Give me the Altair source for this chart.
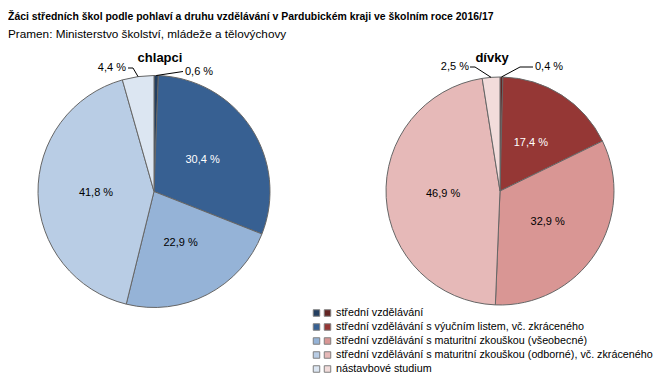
import math
import altair as alt
import pandas as pd

# ---------------- data ----------------
kategorie = [
    "střední vzdělávání",
    "střední vzdělávání s výučním listem, vč. zkráceného",
    "střední vzdělávání s maturitní zkouškou (všeobecné)",
    "střední vzdělávání s maturitní zkouškou (odborné), vč. zkráceného",
    "nástavbové studium",
]
chlapci = [0.6, 30.4, 22.9, 41.8, 4.4]
divky = [0.4, 17.4, 32.9, 46.9, 2.5]
barvy_chlapci = ["#243F60", "#376092", "#95B3D7", "#B9CDE5", "#DCE6F2"]
barvy_divky = ["#632523", "#953735", "#D99694", "#E6B9B8", "#F2DCDB"]
barvy_textu = ["black", "white", "black", "black", "black"]

titulek = "Žáci středních škol podle pohlaví a druhu vzdělávání v Pardubickém  kraji ve školním roce 2016/17"
podtitulek = "Pramen: Ministerstvo školství, mládeže a tělovýchovy"

FONT = "Liberation Sans"
W, H = 653, 368


def fmt(v):
    return f"{v:.1f}".replace(".", ",") + " %"


def pie_layers(values, colors, cx, cy, r, name, name_x, name_y, small_labels):
    df = pd.DataFrame({
        "kategorie": kategorie,
        "hodnota": values,
        "poradi": list(range(len(values))),
        "barva": colors,
        "barva_textu": barvy_textu,
        "vnitrni": [fmt(v) if v >= 10 else "" for v in values],
    })
    base = alt.Chart(df)
    arcs = base.mark_arc(outerRadius=r, stroke="#666666", strokeWidth=1).encode(
        x=alt.value(cx), y=alt.value(cy),
        theta=alt.Theta("hodnota:Q", stack=True),
        order=alt.Order("poradi:Q"),
        color=alt.Color("barva:N", scale=None),
    )
    inner = base.mark_text(radius=r * 0.5, font=FONT, fontSize=11).encode(
        x=alt.value(cx), y=alt.value(cy),
        theta=alt.Theta("hodnota:Q", stack=True),
        order=alt.Order("poradi:Q"),
        text="vnitrni:N",
        color=alt.Color("barva_textu:N", scale=None),
    )
    title = alt.Chart(pd.DataFrame({"t": [name]})).mark_text(
        font=FONT, fontSize=13, fontWeight="bold", baseline="alphabetic"
    ).encode(x=alt.value(name_x), y=alt.value(name_y), text="t:N")

    # outside labels with leader lines (start point on the edge at slice mid-angle)
    total = sum(values)
    cum = [sum(values[:i]) for i in range(len(values))]
    line_rows, text_rows = [], []
    for idx, elbow, end, lx, align in small_labels:
        mid = (cum[idx] + values[idx] / 2) / total * 2 * math.pi
        sx = cx + r * math.sin(mid)
        sy = cy - r * math.cos(mid)
        pts = [(sx, sy), elbow, end]
        for k, (px, py) in enumerate(pts):
            line_rows.append({"id": f"{name}{idx}", "k": k, "px": px, "py": py})
        text_rows.append({"px": lx, "py": end[1], "t": fmt(values[idx]), "align": align})
    ldf = pd.DataFrame(line_rows)
    lines = alt.Chart(ldf).mark_line(color="black", strokeWidth=1).encode(
        x=alt.X("px:Q", scale=None, axis=None),
        y=alt.Y("py:Q", scale=None, axis=None),
        detail="id:N",
        order="k:Q",
    )
    tdf = pd.DataFrame(text_rows)
    out_l = alt.Chart(tdf[tdf["align"] == "left"]).mark_text(
        font=FONT, fontSize=11, align="left", baseline="middle"
    ).encode(x=alt.X("px:Q", scale=None, axis=None), y=alt.Y("py:Q", scale=None, axis=None), text="t:N")
    out_r = alt.Chart(tdf[tdf["align"] == "right"]).mark_text(
        font=FONT, fontSize=11, align="right", baseline="middle"
    ).encode(x=alt.X("px:Q", scale=None, axis=None), y=alt.Y("py:Q", scale=None, axis=None), text="t:N")
    return [arcs, inner, lines, out_l, out_r, title]


left = pie_layers(
    chlapci, barvy_chlapci, 146, 183.5, 116, "chlapci", 152, 54,
    [
        (0, (175, 63.5), (175, 63.5), 177, "left"),
        (4, (125, 60), (120, 60), 118, "right"),
    ],
)
right = pie_layers(
    divky, barvy_divky, 492, 183, 114, "dívky", 484, 54,
    [
        (0, (512, 59), (525, 59), 527, "left"),
        (4, (467, 59), (462, 59), 461, "right"),
    ],
)

# headings
head = pd.DataFrame({"t": [titulek, podtitulek], "py": [12, 30]})
h1 = alt.Chart(head.iloc[[0]]).mark_text(
    font=FONT, fontSize=10.45, fontWeight="bold",
    align="left", baseline="alphabetic"
).encode(x=alt.value(0), y=alt.Y("py:Q", scale=None, axis=None), text="t:N")
h2 = alt.Chart(head.iloc[[1]]).mark_text(
    font=FONT, fontSize=11.75, align="left", baseline="alphabetic"
).encode(x=alt.value(0), y=alt.Y("py:Q", scale=None, axis=None), text="t:N")

# legend
leg = pd.DataFrame({
    "kategorie": kategorie,
    "bc": barvy_chlapci,
    "bd": barvy_divky,
    "py": [305 + 14 * i for i in range(len(kategorie))],
})
lb = alt.Chart(leg)
sq1 = lb.mark_square(size=42, stroke="#7f7f7f", strokeWidth=1, opacity=1).encode(
    x=alt.value(308.5), y=alt.Y("py:Q", scale=None, axis=None),
    color=alt.Color("bc:N", scale=None),
)
sq2 = lb.mark_square(size=42, stroke="#7f7f7f", strokeWidth=1, opacity=1).encode(
    x=alt.value(319.5), y=alt.Y("py:Q", scale=None, axis=None),
    color=alt.Color("bd:N", scale=None),
)
ltxt = lb.mark_text(font=FONT, fontSize=10.75, align="left", baseline="middle").encode(
    x=alt.value(328), y=alt.Y("py:Q", scale=None, axis=None), text="kategorie:N"
)

chart = alt.layer(*left, *right, h1, h2, sq1, sq2, ltxt).properties(
    width=W, height=H, autosize=alt.AutoSizeParams(type="none"), padding=0
).configure_view(stroke=None)

chart.save("out.html", embed_options={"renderer": "svg", "actions": False})
